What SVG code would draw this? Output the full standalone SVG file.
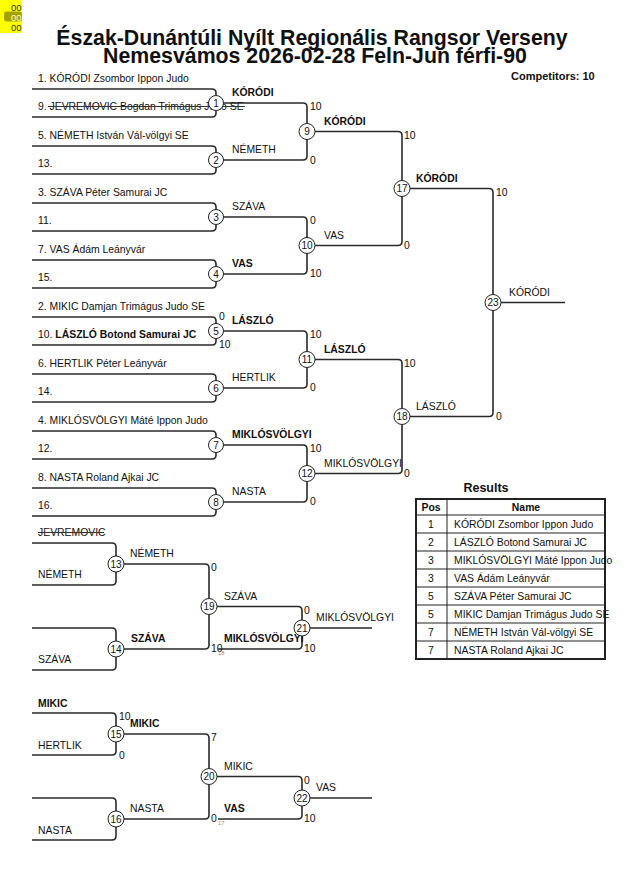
<svg xmlns="http://www.w3.org/2000/svg" width="630" height="891" viewBox="0 0 630 891">
<style>
text{font-family:"Liberation Sans",Arial,sans-serif;font-size:10.4px;fill:#111}
.b{font-weight:bold}
.t{font-size:21.3px;font-weight:bold;text-anchor:middle}
.c{fill:#fff;stroke:#222;stroke-width:1}
.n{text-anchor:middle;font-size:10px}
.ln{fill:none;stroke:#2a2a2a;stroke-width:1.6}
.tiny{font-size:6px;fill:#d08040}
.tb{fill:none;stroke:#222;stroke-width:1}
.mid{text-anchor:middle}
</style>
<rect width="630" height="891" fill="#fff"/>
<g id="badge">
<rect x="0" y="0" width="22" height="33" fill="#ffff00"/>
<rect x="4" y="11.5" width="18" height="10" rx="3" fill="#a3a300"/>
<text x="11" y="10.5" style="font-size:9.5px;fill:#333">00</text>
<text x="11" y="20.5" style="font-size:9.5px;fill:#ffffd0">00</text>
<text x="11" y="31" style="font-size:9.5px;fill:#333">00</text>
</g>
<g id="title">
<text class="t" x="312" y="45">Észak-Dunántúli Nyílt Regionális Rangsor Verseny</text>
<text class="t" x="315" y="63">Nemesvámos 2026-02-28 Feln-Jun férfi-90</text>
<text class="b" x="511" y="80" style="font-size:11px">Competitors: 10</text>
</g>
<g id="connectors">
<path class="ln" d="M32,89 H212 Q216,89 216,93 V95.5 M32,117 H212 Q216,117 216,113 V110.5"/>
<path class="ln" d="M32,146 H212 Q216,146 216,150 V152.5 M32,174 H212 Q216,174 216,170 V167.5"/>
<path class="ln" d="M32,203 H212 Q216,203 216,207 V209.5 M32,231 H212 Q216,231 216,227 V224.5"/>
<path class="ln" d="M32,260 H212 Q216,260 216,264 V266.5 M32,288 H212 Q216,288 216,284 V281.5"/>
<path class="ln" d="M32,317 H212 Q216,317 216,321 V323.5 M32,345 H212 Q216,345 216,341 V338.5"/>
<path class="ln" d="M32,374 H212 Q216,374 216,378 V380.5 M32,402 H212 Q216,402 216,398 V395.5"/>
<path class="ln" d="M32,431 H212 Q216,431 216,435 V437.5 M32,459 H212 Q216,459 216,455 V452.5"/>
<path class="ln" d="M32,488 H212 Q216,488 216,492 V494.5 M32,516 H212 Q216,516 216,512 V509.5"/>
<path class="ln" d="M223.5,103 H303 Q307,103 307,107 V124 M223.5,160 H303 Q307,160 307,156 V139"/>
<path class="ln" d="M223.5,217 H303 Q307,217 307,221 V238 M223.5,274 H303 Q307,274 307,270 V253"/>
<path class="ln" d="M223.5,331 H303 Q307,331 307,335 V352 M223.5,388 H303 Q307,388 307,384 V367"/>
<path class="ln" d="M223.5,445 H303 Q307,445 307,449 V466 M223.5,502 H303 Q307,502 307,498 V481"/>
<path class="ln" d="M315,131.5 H398 Q402,131.5 402,135.5 V180.5 M315,245.5 H398 Q402,245.5 402,241.5 V196.5"/>
<path class="ln" d="M315,359.5 H398 Q402,359.5 402,363.5 V408.5 M315,473.5 H398 Q402,473.5 402,469.5 V424.5"/>
<path class="ln" d="M410,188.5 H489 Q493,188.5 493,192.5 V294.5 M410,416.5 H489 Q493,416.5 493,412.5 V310.5"/>
<path class="ln" d="M501,302.5 H565"/>
<path class="ln" d="M32,543 H112 Q116,543 116,547 V556 M32,585 H112 Q116,585 116,581 V572"/>
<path class="ln" d="M32,628 H112 Q116,628 116,632 V641 M32,670 H112 Q116,670 116,666 V657"/>
<path class="ln" d="M124,564 H205 Q209,564 209,568 V598.5 M124,649 H205 Q209,649 209,645 V614.5"/>
<path class="ln" d="M217,606.5 H298 Q302,606.5 302,610.5 V620 M218,649 H298 Q302,649 302,645 V636"/>
<path class="ln" d="M310,628 H372"/>
<path class="ln" d="M32,713 H112 Q116,713 116,717 V726 M32,755 H112 Q116,755 116,751 V742"/>
<path class="ln" d="M32,798 H112 Q116,798 116,802 V811 M32,840 H112 Q116,840 116,836 V827"/>
<path class="ln" d="M124,734 H205 Q209,734 209,738 V768.5 M124,819 H205 Q209,819 209,815 V784.5"/>
<path class="ln" d="M217,776.5 H298 Q302,776.5 302,780.5 V790 M218,819 H298 Q302,819 302,815 V806"/>
<path class="ln" d="M310,798 H372"/>
</g>
<g id="entries">
<text x="38" y="82">1. KÓRÓDI Zsombor Ippon Judo</text>
<text x="38" y="110">9. JEVREMOVIC Bogdan Trimágus Judo SE</text>
<line x1="48" y1="106.5" x2="245" y2="106.5" stroke="#333" stroke-width="1"/>
<text x="38" y="139">5. NÉMETH István Vál-völgyi SE</text>
<text x="38" y="167">13.</text>
<text x="38" y="196">3. SZÁVA Péter Samurai JC</text>
<text x="38" y="224">11.</text>
<text x="38" y="253">7. VAS Ádám Leányvár</text>
<text x="38" y="281">15.</text>
<text x="38" y="310">2. MIKIC Damjan Trimágus Judo SE</text>
<text x="38" y="338">10. <tspan class="b">LÁSZLÓ Botond Samurai JC</tspan></text>
<text x="38" y="367">6. HERTLIK Péter Leányvár</text>
<text x="38" y="395">14.</text>
<text x="38" y="424">4. MIKLÓSVÖLGYI Máté Ippon Judo</text>
<text x="38" y="452">12.</text>
<text x="38" y="481">8. NASTA Roland Ajkai JC</text>
<text x="38" y="509">16.</text>
<text x="38" y="536">JEVREMOVIC</text>
<line x1="38" y1="532.5" x2="104" y2="532.5" stroke="#333" stroke-width="1"/>
<text x="38" y="578">NÉMETH</text>
<text x="38" y="663">SZÁVA</text>
<text class="b" x="38" y="707">MIKIC</text>
<text x="38" y="749">HERTLIK</text>
<text x="38" y="834">NASTA</text>
</g>
<g id="labels">
<text class="b" x="232" y="96">KÓRÓDI</text>
<text x="232" y="153">NÉMETH</text>
<text x="232" y="210">SZÁVA</text>
<text class="b" x="232" y="267">VAS</text>
<text class="b" x="232" y="324">LÁSZLÓ</text>
<text x="232" y="381">HERTLIK</text>
<text class="b" x="232" y="438">MIKLÓSVÖLGYI</text>
<text x="232" y="495">NASTA</text>
<text class="b" x="324" y="124.5">KÓRÓDI</text>
<text x="324" y="238.5">VAS</text>
<text class="b" x="324" y="352.5">LÁSZLÓ</text>
<text x="324" y="466.5">MIKLÓSVÖLGYI</text>
<text class="b" x="416" y="181.5">KÓRÓDI</text>
<text x="416" y="409.5">LÁSZLÓ</text>
<text x="509" y="295.5">KÓRÓDI</text>
<text x="130" y="557">NÉMETH</text>
<text class="b" x="131" y="642">SZÁVA</text>
<text x="224" y="599.5">SZÁVA</text>
<text class="b" x="224" y="642">MIKLÓSVÖLGYI</text>
<text x="316" y="621">MIKLÓSVÖLGYI</text>
<text class="b" x="130" y="727">MIKIC</text>
<text x="130" y="812">NASTA</text>
<text x="224" y="769.5">MIKIC</text>
<text class="b" x="224" y="812">VAS</text>
<text x="316" y="791">VAS</text>
</g>
<g id="scores">
<text x="219" y="320">0</text>
<text x="219" y="348">10</text>
<text x="310" y="110">10</text>
<text x="310" y="164">0</text>
<text x="310" y="224">0</text>
<text x="310" y="277">10</text>
<text x="310" y="338">10</text>
<text x="310" y="391">0</text>
<text x="310" y="452">10</text>
<text x="310" y="505">0</text>
<text x="404" y="138.5">10</text>
<text x="404" y="249">0</text>
<text x="404" y="366.5">10</text>
<text x="404" y="477">0</text>
<text x="496" y="195.5">10</text>
<text x="496" y="420">0</text>
<text x="211" y="571">0</text>
<text x="211" y="652">10</text>
<text class="tiny" x="218" y="655">18</text>
<text x="304" y="613.5">0</text>
<text x="304" y="652">10</text>
<text x="119" y="720">10</text>
<text x="119" y="759">0</text>
<text x="211" y="741">7</text>
<text x="211" y="822">0</text>
<text class="tiny" x="218" y="825">17</text>
<text x="304" y="783.5">0</text>
<text x="304" y="822">10</text>
</g>
<g id="m1"><circle class="c" cx="216" cy="103" r="7.5"/><text class="n" x="216" y="106.5">1</text></g>
<g id="m2"><circle class="c" cx="216" cy="160" r="7.5"/><text class="n" x="216" y="163.5">2</text></g>
<g id="m3"><circle class="c" cx="216" cy="217" r="7.5"/><text class="n" x="216" y="220.5">3</text></g>
<g id="m4"><circle class="c" cx="216" cy="274" r="7.5"/><text class="n" x="216" y="277.5">4</text></g>
<g id="m5"><circle class="c" cx="216" cy="331" r="7.5"/><text class="n" x="216" y="334.5">5</text></g>
<g id="m6"><circle class="c" cx="216" cy="388" r="7.5"/><text class="n" x="216" y="391.5">6</text></g>
<g id="m7"><circle class="c" cx="216" cy="445" r="7.5"/><text class="n" x="216" y="448.5">7</text></g>
<g id="m8"><circle class="c" cx="216" cy="502" r="7.5"/><text class="n" x="216" y="505.5">8</text></g>
<g id="m9"><circle class="c" cx="307" cy="131.5" r="8"/><text class="n" x="307" y="135">9</text></g>
<g id="m10"><circle class="c" cx="307" cy="245.5" r="8"/><text class="n" x="307" y="249">10</text></g>
<g id="m11"><circle class="c" cx="307" cy="359.5" r="8"/><text class="n" x="307" y="363">11</text></g>
<g id="m12"><circle class="c" cx="307" cy="473.5" r="8"/><text class="n" x="307" y="477">12</text></g>
<g id="m17"><circle class="c" cx="402" cy="188.5" r="8"/><text class="n" x="402" y="192">17</text></g>
<g id="m18"><circle class="c" cx="402" cy="416.5" r="8"/><text class="n" x="402" y="420">18</text></g>
<g id="m23"><circle class="c" cx="493" cy="302.5" r="8"/><text class="n" x="493" y="306">23</text></g>
<g id="m13"><circle class="c" cx="116" cy="564" r="8"/><text class="n" x="116" y="567.5">13</text></g>
<g id="m14"><circle class="c" cx="116" cy="649" r="8"/><text class="n" x="116" y="652.5">14</text></g>
<g id="m19"><circle class="c" cx="209" cy="606.5" r="8"/><text class="n" x="209" y="610">19</text></g>
<g id="m21"><circle class="c" cx="302" cy="628" r="8"/><text class="n" x="302" y="631.5">21</text></g>
<g id="m15"><circle class="c" cx="116" cy="734" r="8"/><text class="n" x="116" y="737.5">15</text></g>
<g id="m16"><circle class="c" cx="116" cy="819" r="8"/><text class="n" x="116" y="822.5">16</text></g>
<g id="m20"><circle class="c" cx="209" cy="776.5" r="8"/><text class="n" x="209" y="780">20</text></g>
<g id="m22"><circle class="c" cx="302" cy="798" r="8"/><text class="n" x="302" y="801.5">22</text></g>
<g id="results">
<text class="b mid" x="486" y="492" style="font-size:12.5px">Results</text>
<rect x="416" y="499" width="189" height="160" fill="none" stroke="#222" stroke-width="2"/>
<path class="tb" d="M447,499 V659 M416,515 H605 M416,533 H605 M416,551 H605 M416,569 H605 M416,587 H605 M416,605 H605 M416,623 H605 M416,641 H605"/>
<text class="b mid" x="431" y="511">Pos</text>
<text class="b mid" x="526" y="511">Name</text>
<text class="mid" x="431" y="528">1</text><text x="454" y="528">KÓRÓDI Zsombor Ippon Judo</text>
<text class="mid" x="431" y="546">2</text><text x="454" y="546">LÁSZLÓ Botond Samurai JC</text>
<text class="mid" x="431" y="564">3</text><text x="454" y="564">MIKLÓSVÖLGYI Máté Ippon Judo</text>
<text class="mid" x="431" y="582">3</text><text x="454" y="582">VAS Ádám Leányvár</text>
<text class="mid" x="431" y="600">5</text><text x="454" y="600">SZÁVA Péter Samurai JC</text>
<text class="mid" x="431" y="618">5</text><text x="454" y="618">MIKIC Damjan Trimágus Judo SE</text>
<text class="mid" x="431" y="636">7</text><text x="454" y="636">NÉMETH István Vál-völgyi SE</text>
<text class="mid" x="431" y="654">7</text><text x="454" y="654">NASTA Roland Ajkai JC</text>
</g>
</svg>
